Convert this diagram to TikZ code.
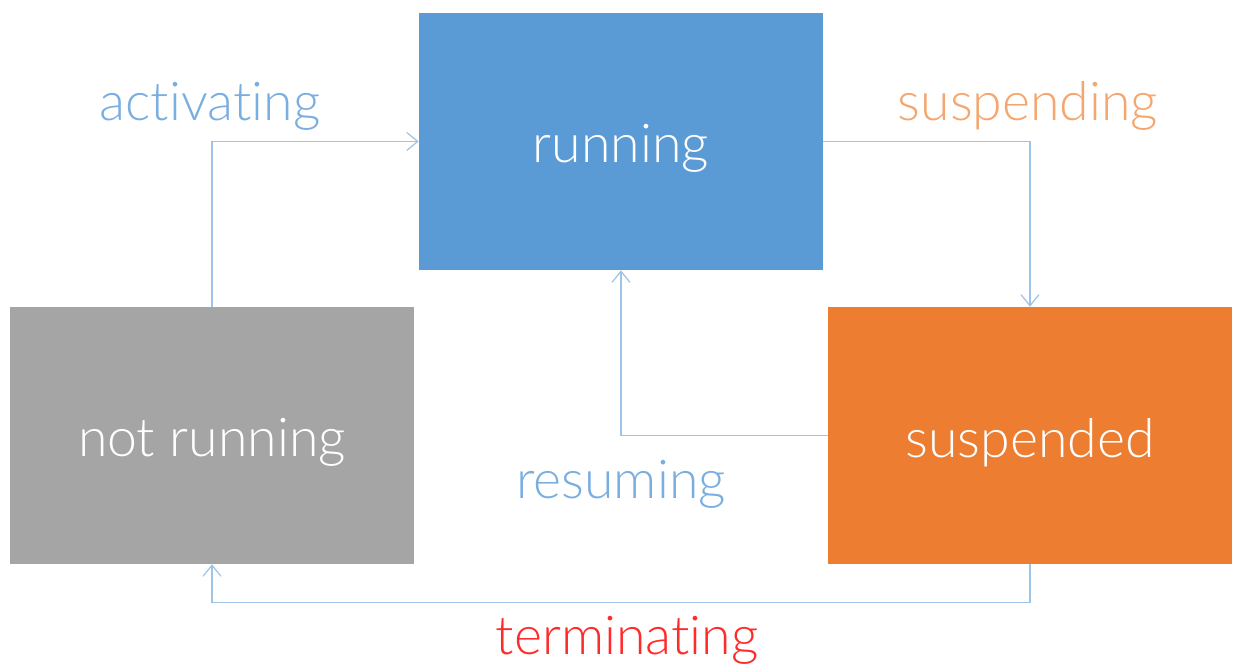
\documentclass[tikz,border=0pt]{standalone}
\usepackage{fontspec}
\setmainfont{Lato Light}[Ligatures={NoCommon,NoRequired,NoContextual}]
\usepackage{xcolor}
\usetikzlibrary{positioning,calc,arrows.meta}

\definecolor{runBlue}{HTML}{5B9BD5}
\definecolor{idleGray}{HTML}{A5A5A5}
\definecolor{suspOrange}{HTML}{ED7D31}
\definecolor{lineBlue}{HTML}{9DC3E6}
\definecolor{labBlue}{HTML}{7AAEE0}
\definecolor{labOrange}{HTML}{F4A66E}
\definecolor{labRed}{HTML}{FF2A2A}

% box text, sitting a little low in its box
\newcommand{\lowtxt}[1]{\smash{\raisebox{-0.14cm}{#1}}\vphantom{#1}}

\begin{document}
\begin{tikzpicture}[
    x=0.02cm, y=-0.02cm,
    every node/.style={font=\fontsize{30.5}{36}\selectfont},
    state/.style={minimum width=8.08cm, minimum height=5.14cm, inner sep=0pt,
                  text=white},
    lab/.style={inner sep=0pt},
    trans/.style={-{Straight Barb[length=2.2mm,width=3.6mm]}, lineBlue, line width=0.7pt},
]
\useasboundingbox (0,0) rectangle (1237,665);

% Three states
\node[state, fill=runBlue] (run) at (621,141.5) {\lowtxt{running}};
\node[state, fill=idleGray] (idle) at (212,435.5) {\lowtxt{not running}};
\node[state, fill=suspOrange] (susp) at (1030,435.5) {\lowtxt{suspended}};

% Transitions
\draw[trans] (idle.north) |- (run.west);
\draw[trans] (run.east) -| (susp.north);
\draw[trans] (susp.west) -| (run.south);
\draw[trans] (susp.south) -- ++(0,38) -| (idle.south);

% Transition labels
\node[lab, text=labBlue] (lAct) at (210,106) {activating};
\node[lab, text=labOrange] (lSus) at (1028,106) {suspending};
\node[lab, text=labBlue] (lRes) at (621,484) {resuming};
\node[lab, text=labRed] (lTer) at (627,640) {terminating};

\end{tikzpicture}
\end{document}
